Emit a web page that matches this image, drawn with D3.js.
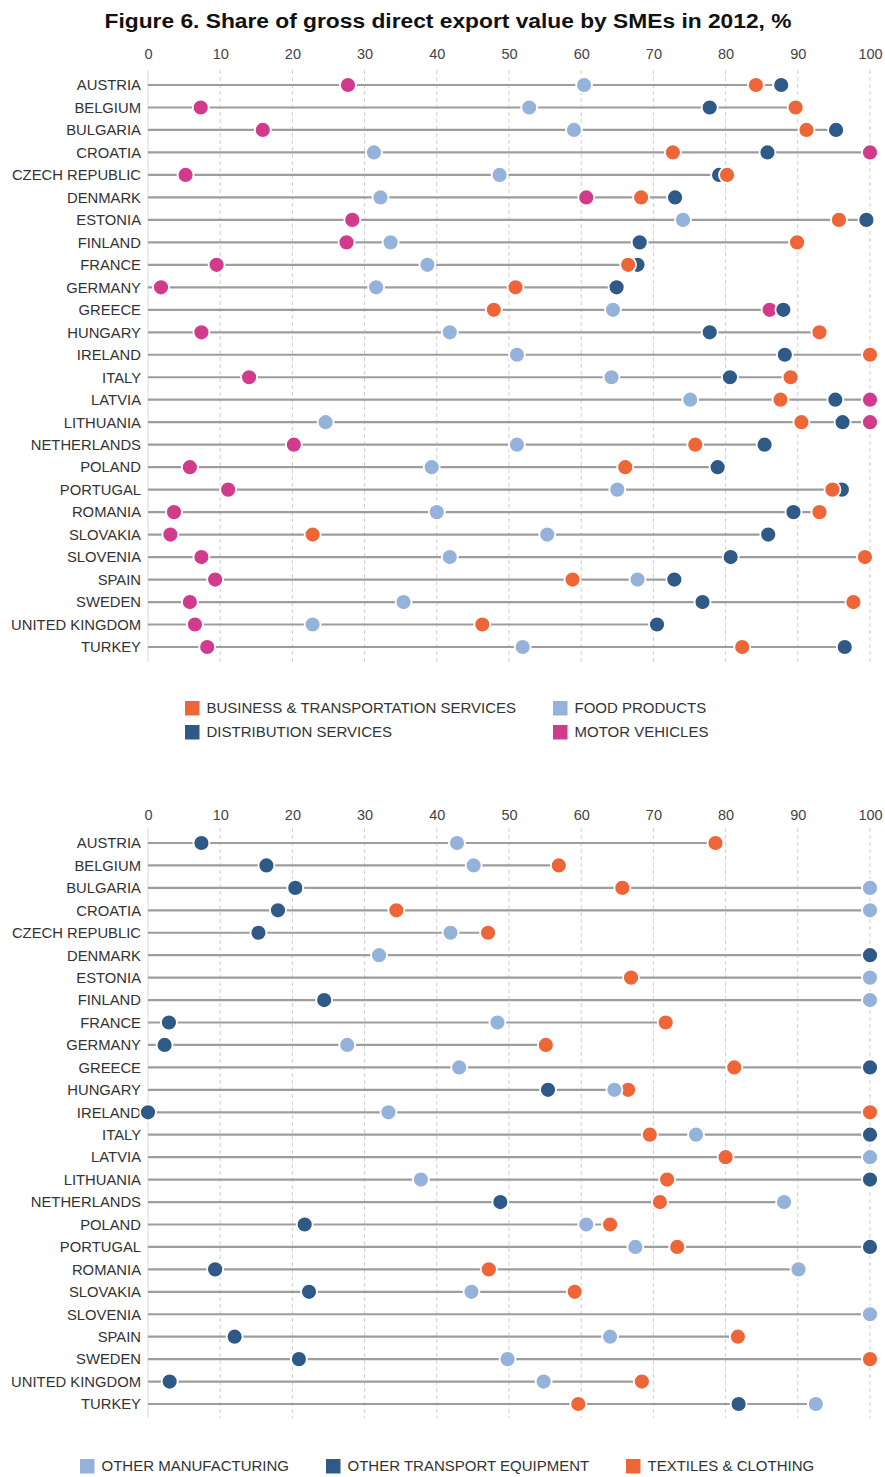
<!DOCTYPE html>
<html>
<head>
<meta charset="utf-8">
<script src="https://cdn.jsdelivr.net/npm/d3@7"></script>
<style>
  body { margin: 0; background: #fff; }
  svg { display: block; font-family: Arial, "Liberation Sans", sans-serif; }
</style>
</head>
<body>
<svg id="chart" width="885" height="1477"></svg>
<script>
const countries = ["AUSTRIA", "BELGIUM", "BULGARIA", "CROATIA", "CZECH REPUBLIC", "DENMARK",
  "ESTONIA", "FINLAND", "FRANCE", "GERMANY", "GREECE", "HUNGARY", "IRELAND", "ITALY", "LATVIA",
  "LITHUANIA", "NETHERLANDS", "POLAND", "PORTUGAL", "ROMANIA", "SLOVAKIA", "SLOVENIA", "SPAIN",
  "SWEDEN", "UNITED KINGDOM", "TURKEY"];

const xTicks = [0, 10, 20, 30, 40, 50, 60, 70, 80, 90, 100];

// top panel
const business = [84.2, 89.7, 91.2, 72.7, 80.2, 68.3, 95.7, 89.9, 66.5, 50.9, 47.9, 93.0, 100,
  89.0, 87.6, 90.5, 75.8, 66.1, 94.8, 93.0, 22.8, 99.3, 58.8, 97.7, 46.3, 82.3];
const distribution = [87.7, 77.8, 95.3, 85.8, 79.1, 73.0, 99.5, 68.1, 67.8, 64.9, 88.0, 77.8, 88.2,
  80.6, 95.2, 96.2, 85.4, 78.9, 96.1, 89.4, 85.9, 80.7, 72.9, 76.8, 70.5, 96.5];
const food = [60.4, 52.8, 59.0, 31.3, 48.7, 32.2, 74.1, 33.6, 38.7, 31.6, 64.4, 41.8, 51.1,
  64.2, 75.1, 24.6, 51.1, 39.3, 65.0, 40.0, 55.3, 41.8, 67.8, 35.4, 22.8, 51.9];
const motor = [27.7, 7.3, 15.9, 100, 5.2, 60.7, 28.3, 27.5, 9.5, 1.8, 86.1, 7.4, null,
  14.0, 100, 100, 20.2, 5.8, 11.1, 3.6, 3.1, 7.4, 9.3, 5.8, 6.5, 8.2];

// bottom panel
const otherManuf = [42.8, 45.1, 100, 100, 41.9, 32.0, 100, 100, 48.4, 27.6, 43.1, 64.6, 33.3,
  75.9, 100, 37.8, 88.1, 60.7, 67.5, 90.1, 44.8, 100, 64.0, 49.8, 54.8, 92.5];
const otherTransport = [7.4, 16.4, 20.4, 18.0, 15.3, 100, null, 24.4, 2.9, 2.3, 100, 55.4, 0,
  100, null, 100, 48.8, 21.7, 100, 9.3, 22.3, null, 12.0, 20.9, 3.0, 81.8];
const textiles = [78.6, 56.9, 65.7, 34.4, 47.1, null, 66.9, null, 71.7, 55.1, 81.2, 66.5, 100,
  69.5, 80.0, 71.9, 70.9, 64.0, 73.3, 47.2, 59.1, null, 81.7, 100, 68.4, 59.6];

const ORANGE = "#ee6637", DARK = "#2f5a87", LIGHT = "#95b3da", MAGENTA = "#d23a8c";

const svg = d3.select("#chart");
const x = d3.scaleLinear().domain([0, 100]).range([148, 870]);

svg.append("text")
  .attr("x", 448).attr("y", 28)
  .attr("text-anchor", "middle")
  .attr("textLength", 687).attr("lengthAdjust", "spacingAndGlyphs")
  .style("font-size", "20px").style("font-weight", "bold").style("fill", "#111")
  .text("Figure 6. Share of gross direct export value by SMEs in 2012, %");

function drawPanel(p, series) {
  const y = d3.scalePoint().domain(countries).range([p.rowTop, p.rowBottom]);
  const g = svg.append("g");

  // tick labels
  g.append("g")
    .attr("transform", `translate(0,${p.axisY})`)
    .call(d3.axisTop(x).tickValues(xTicks).tickSize(0).tickPadding(0))
    .call(a => a.select(".domain").remove())
    .selectAll("text")
    .style("font-size", "14.5px").style("fill", "#444")
    .style("font-family", "Arial, 'Liberation Sans', sans-serif");

  // grid
  g.append("g").selectAll("line")
    .data(xTicks)
    .join("line")
    .attr("x1", d => x(d)).attr("x2", d => x(d))
    .attr("y1", p.gridTop).attr("y2", p.gridBottom)
    .attr("stroke", d => d === 0 ? "#d8d8d8" : "#cfcfcf")
    .attr("stroke-width", 1)
    .attr("stroke-dasharray", d => d === 0 ? null : "4,3");

  // country labels
  g.append("g").selectAll("text")
    .data(countries)
    .join("text")
    .attr("x", 141).attr("y", d => y(d))
    .attr("dy", "0.36em")
    .attr("text-anchor", "end")
    .style("font-size", "14.8px").style("fill", "#333")
    .text(d => d);

  // stems from 0 to max value
  g.append("g").selectAll("line")
    .data(countries)
    .join("line")
    .attr("x1", x(0))
    .attr("x2", (d, i) => x(d3.max(series, s => s.values[i])))
    .attr("y1", d => y(d)).attr("y2", d => y(d))
    .attr("stroke", "#9d9d9d").attr("stroke-width", 2.2);

  // dots, drawn in reverse legend order
  series.slice().reverse().forEach(s => {
    g.append("g").selectAll("circle")
      .data(countries.map((c, i) => ({ c, v: s.values[i] })).filter(d => d.v != null))
      .join("circle")
      .attr("cx", d => x(d.v)).attr("cy", d => y(d.c))
      .attr("r", 8)
      .attr("fill", s.color)
      .attr("stroke", "#fff").attr("stroke-width", 1.8);
  });
}

const topSeries = [
  { name: "BUSINESS & TRANSPORTATION SERVICES", values: business, color: ORANGE },
  { name: "DISTRIBUTION SERVICES", values: distribution, color: DARK },
  { name: "FOOD PRODUCTS", values: food, color: LIGHT },
  { name: "MOTOR VEHICLES", values: motor, color: MAGENTA }
];
const bottomSeries = [
  { name: "OTHER MANUFACTURING", values: otherManuf, color: LIGHT },
  { name: "OTHER TRANSPORT EQUIPMENT", values: otherTransport, color: DARK },
  { name: "TEXTILES & CLOTHING", values: textiles, color: ORANGE }
];

drawPanel({ axisY: 59, rowTop: 85, rowBottom: 647, gridTop: 70, gridBottom: 662 }, topSeries);
drawPanel({ axisY: 820, rowTop: 843, rowBottom: 1404, gridTop: 828, gridBottom: 1418 }, bottomSeries);

// legends
const legTop = [
  { s: topSeries[0], x: 185, y: 708 },
  { s: topSeries[1], x: 185, y: 732 },
  { s: topSeries[2], x: 553, y: 708 },
  { s: topSeries[3], x: 553, y: 732 }
];
const legBottom = [
  { s: bottomSeries[0], x: 80, y: 1466 },
  { s: bottomSeries[1], x: 326, y: 1466 },
  { s: bottomSeries[2], x: 626, y: 1466 }
];

const leg = svg.append("g").selectAll("g")
  .data(legTop.concat(legBottom))
  .join("g")
  .attr("transform", d => `translate(${d.x},${d.y})`);
leg.append("rect")
  .attr("x", 0).attr("y", -7).attr("width", 14.5).attr("height", 14.5)
  .attr("fill", d => d.s.color);
leg.append("text")
  .attr("x", 21.5).attr("dy", "0.36em")
  .style("font-size", "15px").style("fill", "#333")
  .text(d => d.s.name);
</script>
</body>
</html>
